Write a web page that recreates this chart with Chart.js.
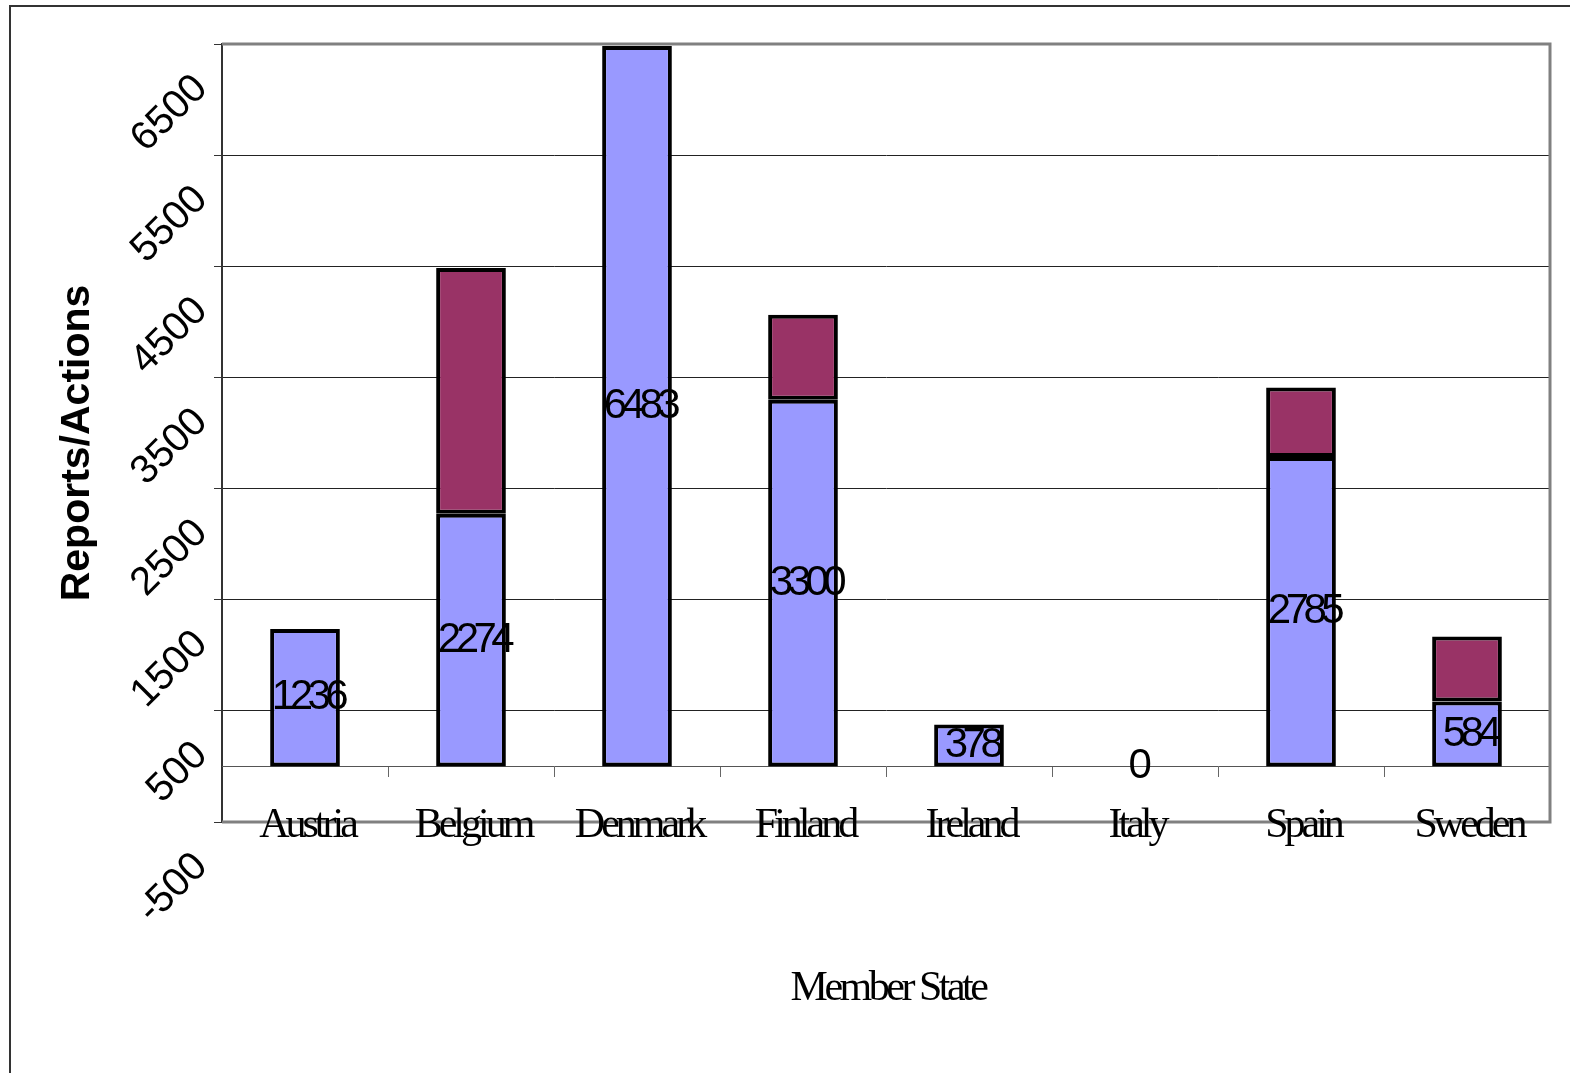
<!DOCTYPE html>
<html>
<head>
<meta charset="utf-8">
<title>Reports/Actions by Member State</title>
<script src="https://cdn.jsdelivr.net/npm/chart.js@4.4.1/dist/chart.umd.min.js"></script>
<style>
  html, body { margin: 0; padding: 0; background: #fff; }
  #wrap { width: 1570px; height: 1073px; position: relative; }
</style>
</head>
<body>
<div id="wrap"><canvas id="memberChart"></canvas></div>
<script>
// chart values
const memberStates = ['Austria', 'Belgium', 'Denmark', 'Finland', 'Ireland', 'Italy', 'Spain', 'Sweden'];
const reportsLower = [1236, 2274, 6483, 3300, 378, 0, 2785, 584];
const reportsUpper = [0, 2210, 0, 765, 0, 0, 625, 585];
const yMin = -500;
const yMax = 6500;
const yStep = 1000;

const COLORS = {
  lower: '#9999ff',
  upper: '#993366',
  frame: '#808080',
  grid: '#222222',
  axis: '#333333',
};

const SANS = "'Liberation Sans', Arial, sans-serif";
const SERIF = "'Liberation Serif', 'Times New Roman', serif";

// Excel-like text, frame and labels
const excelLook = {
  id: 'excelLook',
  beforeDraw(chart) {
    const ctx = chart.ctx;
    ctx.save();
    ctx.fillStyle = '#fff';
    ctx.fillRect(0, 0, chart.width, chart.height);
    // outer page frame (top and left only)
    ctx.strokeStyle = '#333';
    ctx.lineWidth = 2;
    ctx.beginPath();
    ctx.moveTo(10, chart.height);
    ctx.lineTo(10, 6);
    ctx.lineTo(chart.width, 6);
    ctx.stroke();
    ctx.restore();
  },
  beforeDatasetsDraw(chart) {
    const { ctx, chartArea: a } = chart;
    ctx.save();
    ctx.strokeStyle = COLORS.frame;
    ctx.lineWidth = 3;
    ctx.beginPath();
    ctx.moveTo(a.left, a.top);
    ctx.lineTo(a.right, a.top);
    ctx.lineTo(a.right, a.bottom);
    ctx.lineTo(a.left, a.bottom);
    ctx.stroke();
    ctx.restore();
  },
  afterDatasetsDraw(chart) {
    const { ctx, chartArea: a } = chart;
    const xs = chart.scales.x;
    const ys = chart.scales.y;
    ctx.save();
    ctx.fillStyle = '#000';

    // value labels in the lower bars
    ctx.font = `42px ${SANS}`;
    ctx.letterSpacing = '-5.5px';
    ctx.textAlign = 'center';
    ctx.textBaseline = 'middle';
    chart.getDatasetMeta(0).data.forEach((bar, i) => {
      const mid = (bar.y + bar.base) / 2;
      ctx.fillText(String(reportsLower[i]), bar.x + 2.5, mid);
    });

    // category labels
    ctx.font = `42px ${SERIF}`;
    ctx.letterSpacing = '-4px';
    ctx.textBaseline = 'alphabetic';
    memberStates.forEach((name, i) => {
      ctx.fillText(name, xs.getPixelForValue(i) + 2, 837);
    });

    // x axis title
    ctx.letterSpacing = '-3.5px';
    ctx.fillText('Member State', (a.left + a.right) / 2 + 2, 1000);

    // rotated y tick labels
    ctx.font = `40px ${SANS}`;
    ctx.letterSpacing = '0px';
    ctx.textAlign = 'right';
    ys.ticks.forEach((t) => {
      const py = ys.getPixelForValue(t.value);
      ctx.save();
      ctx.translate(209, py + 46);
      ctx.rotate(-Math.PI / 4);
      ctx.fillText(String(t.value), 0, 0);
      ctx.restore();
    });

    // y axis title
    ctx.font = `bold 41px ${SANS}`;
    ctx.textAlign = 'center';
    ctx.textBaseline = 'middle';
    ctx.translate(78, 443);
    ctx.rotate(-Math.PI / 2);
    ctx.fillText('Reports/Actions', 0, 0);
    ctx.restore();
  },
};

const chart = new Chart(document.getElementById('memberChart'), {
  type: 'bar',
  data: {
    labels: memberStates,
    datasets: [
      {
        label: 'Reports',
        data: reportsLower,
        backgroundColor: COLORS.lower,
        borderColor: '#000',
        borderWidth: 4,
        borderSkipped: false,
        categoryPercentage: 1,
        barPercentage: 0.42,
      },
      {
        label: 'Actions',
        data: reportsUpper,
        backgroundColor: COLORS.upper,
        borderColor: '#000',
        borderWidth: 4,
        borderSkipped: false,
        categoryPercentage: 1,
        barPercentage: 0.42,
      },
    ],
  },
  options: {
    responsive: true,
    maintainAspectRatio: false,
    devicePixelRatio: 1,
    animation: false,
    layout: { padding: { left: 214, top: 44, right: 20, bottom: 251 } },
    plugins: {
      legend: { display: false },
      tooltip: { enabled: false },
    },
    scales: {
      y: {
        stacked: true,
        min: yMin,
        max: yMax,
        ticks: { stepSize: yStep, display: false },
        grid: { color: COLORS.grid, lineWidth: 1, tickLength: 8, tickColor: COLORS.axis },
        border: { color: COLORS.axis, width: 2 },
      },
      x: {
        stacked: true,
        position: { y: 0 },
        ticks: { display: false },
        grid: { drawOnChartArea: false, offset: true, tickLength: 10, tickColor: '#666' },
        border: { color: '#555', width: 1 },
      },
    },
  },
  plugins: [excelLook],
});
</script>
</body>
</html>
